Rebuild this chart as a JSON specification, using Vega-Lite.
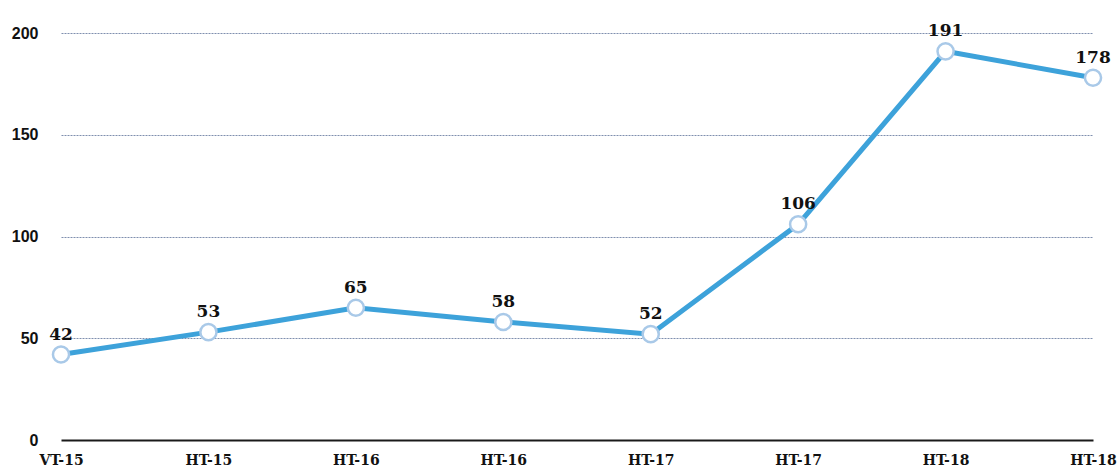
{
  "$schema": "https://vega.github.io/schema/vega-lite/v6.json",
  "autosize": {"type": "none"},
  "padding": {"left": 61, "top": 33, "right": 26, "bottom": 30},
  "width": 1032,
  "height": 407,
  "background": "white",
  "config": {"view": {"stroke": null}},
  "data": {"values": [
    {"slot": "VT-15 #1", "value": 42},
    {"slot": "HT-15 #2", "value": 53},
    {"slot": "HT-16 #3", "value": 65},
    {"slot": "HT-16 #4", "value": 58},
    {"slot": "HT-17 #5", "value": 52},
    {"slot": "HT-17 #6", "value": 106},
    {"slot": "HT-18 #7", "value": 191},
    {"slot": "HT-18 #8", "value": 178}
  ]},
  "encoding": {
    "x": {"field": "slot", "type": "ordinal", "sort": null,
      "scale": {"type": "point", "padding": 0},
      "axis": {"title": null, "labelAngle": 0, "labelExpr": "substring(datum.value, 0, 5)",
        "ticks": false, "tickSize": 0, "labelPadding": 13, "domainColor": "#1a1a1a", "domainWidth": 2,
        "labelFont": "DejaVu Serif", "labelFontWeight": "bold", "labelFontSize": 14, "labelColor": "#111",
        "grid": false}},
    "y": {"field": "value", "type": "quantitative",
      "scale": {"domain": [0, 200], "nice": false, "zero": true},
      "axis": {"title": null, "values": [0, 50, 100, 150, 200], "domain": false, "ticks": false, "tickSize": 0,
        "labelPadding": 23, "labelFont": "Liberation Sans", "labelFontWeight": "bold", "labelFontSize": 16, "labelColor": "#111",
        "gridColor": "#7f8fae", "gridDash": [2, 1], "gridWidth": 1,
        "gridOpacity": {"expr": "datum.value === 0 ? 0 : 1"}}}
  },
  "layer": [
    {"mark": {"type": "line", "color": "#3da2da", "strokeWidth": 5}},
    {"mark": {"type": "point", "filled": true, "fill": "white", "stroke": "#a9c9e8", "strokeWidth": 2.5, "size": 260, "opacity": 1}},
    {"mark": {"type": "text", "font": "DejaVu Serif", "fontWeight": "bold", "fontSize": 17, "color": "#111", "baseline": "bottom", "dy": -11},
      "encoding": {"text": {"field": "value", "type": "quantitative"}}}
  ]
}
